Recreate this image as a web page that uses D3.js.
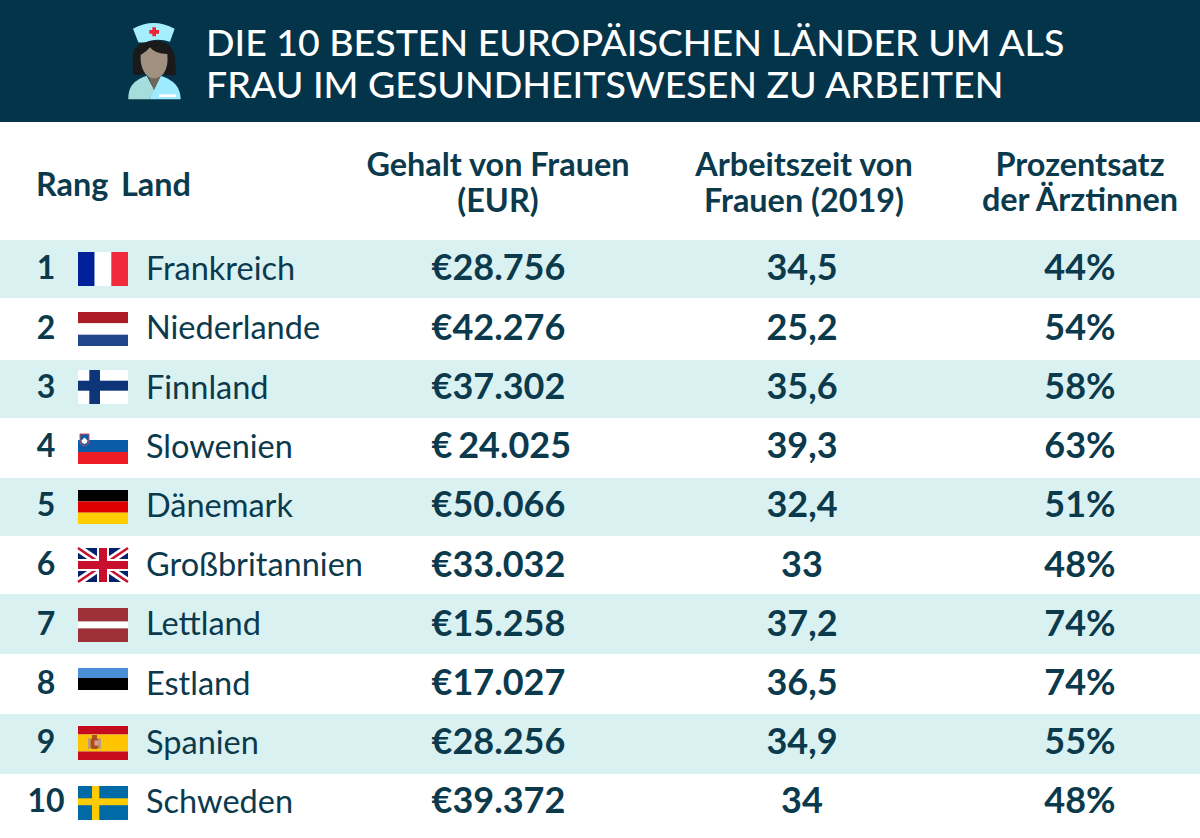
<!DOCTYPE html>
<html><head><meta charset="utf-8">
<script src="https://cdn.jsdelivr.net/npm/d3@7/dist/d3.min.js"></script>
<style>html,body{margin:0;padding:0;background:#fff}svg{display:block}text{font-family:Lato,sans-serif}</style>
</head><body><div id="c"></div>
<script>
const titleLines = ["DIE 10 BESTEN EUROPÄISCHEN LÄNDER UM ALS","FRAU IM GESUNDHEITSWESEN ZU ARBEITEN"];
const ranks = [1,2,3,4,5,6,7,8,9,10];
const countries = ["Frankreich","Niederlande","Finnland","Slowenien","Dänemark","Großbritannien","Lettland","Estland","Spanien","Schweden"];
const salaries = ["€28.756","€42.276","€37.302","€ 24.025","€50.066","€33.032","€15.258","€17.027","€28.256","€39.372"];
const hours = ["34,5","25,2","35,6","39,3","32,4","33","37,2","36,5","34,9","34"];
const doctors = ["44%","54%","58%","63%","51%","48%","74%","74%","55%","48%"];
const flagKeys = ["fr","nl","fi","si","de","gb","lv","ee","es","se"];

// layout
const W=1200,H=838;
const ink="#0b3a4d", band="#daf1f2", head="#04344a";
const bandTops=[240,298,360,418,478,536,594,654,714,774,838];
const flagTops=[252,312,370,430,490,548,608,666,726,786];
const y=d3.scaleLinear().domain([1,10]).range([268,801]);
const svg=d3.select("#c").append("svg").attr("width",W).attr("height",H).attr("viewBox",`0 0 ${W} ${H}`);
svg.append("rect").attr("width",W).attr("height",122).attr("fill",head);

// nurse icon (drawn on a 3x grid)
const n=svg.append("g").attr("transform","translate(110,10) scale(0.3333)");
n.append("path").attr("fill","#1a1a1a").attr("d","M69,193 L68,135 Q78,92 132,92 Q186,92 195,140 L198,195 Q180,200 150,190 L110,190 Q90,198 69,193Z");
n.append("path").attr("fill","#a5dcdc").attr("d","M55,268 Q52,215 110,197 L133,240 L152,205 L118,268Z");
n.append("path").attr("fill","#9eeaff").attr("d","M118,268 L152,197 Q212,215 212,268Z");
n.append("path").attr("fill","#6f675a").attr("d","M112,195 L154,195 L132,240Z");
n.append("path").attr("fill","#a09080").attr("d","M92,135 Q110,125 120,112 Q135,132 172,132 Q176,170 160,192 Q145,205 130,205 Q112,203 102,185 Q90,165 92,135Z");
n.append("rect").attr("x",147).attr("y",253).attr("width",51).attr("height",8).attr("fill","#fff");
n.append("path").attr("fill","#a5eefc").attr("d","M69,56 Q130,22 194,56 L180,95 Q150,85 120,92 Q100,100 85,97Z");
n.append("path").attr("fill","#ee2436").attr("d","M127,52 H138 V60 H147 V71 H138 V79 H127 V71 H118 V60 H127Z");

// title
svg.append("g").selectAll("text").data(titleLines).join("text")
 .attr("x",206).attr("y",(d,i)=>56+i*42).attr("fill","#fff").attr("font-size",37.5).attr("font-weight",500).text(d=>d);

// column heads
const headers=[
 {x:36,a:"start",l:["Rang"],y:[196]},
 {x:121,a:"start",l:["Land"],y:[196]},
 {x:498,a:"middle",l:["Gehalt von Frauen","(EUR)"],y:[176,212]},
 {x:804,a:"middle",l:["Arbeitszeit von","Frauen (2019)"],y:[176,212]},
 {x:1080,a:"middle",l:["Prozentsatz","der Ärztinnen"],y:[175.5,211]}];
headers.forEach(h=>h.l.forEach((t,i)=>svg.append("text").attr("x",h.x).attr("y",h.y[i]).attr("text-anchor",h.a)
 .attr("font-size",32.4).attr("font-weight",700).attr("fill",ink).text(t)));

// bands
svg.append("g").selectAll("rect").data(ranks.filter(r=>r%2===1)).join("rect")
 .attr("x",0).attr("width",W).attr("y",r=>bandTops[r-1]).attr("height",r=>bandTops[r]-bandTops[r-1]).attr("fill",band);

// flags
const FW=50,FH=34;
function stripesH(g,cols,w){let yy=0;const t=d3.sum(w);cols.forEach((c,i)=>{const h=FH*w[i]/t;g.append("rect").attr("y",yy).attr("width",FW).attr("height",h).attr("fill",c);yy+=h;});}
function stripesV(g,cols){cols.forEach((c,i)=>g.append("rect").attr("x",i*FW/3).attr("width",FW/3).attr("height",FH).attr("fill",c));}
function nordic(g,bg,fg,vx,vw,hy,hh){g.append("rect").attr("width",FW).attr("height",FH).attr("fill",bg);
 g.append("rect").attr("x",vx).attr("width",vw).attr("height",FH).attr("fill",fg);
 g.append("rect").attr("y",hy).attr("width",FW).attr("height",hh).attr("fill",fg);}
const draw={
 fr:g=>stripesV(g,["#00219a","#ffffff","#f12b3b"]),
 nl:g=>stripesH(g,["#ac1c27","#ffffff","#21468c"],[1,1,1]),
 fi:g=>nordic(g,"#ffffff","#0d3577",11.3,10.7,10.7,10),
 si:g=>{g.append("rect").attr("y",10).attr("width",FW).attr("height",12).attr("fill","#0a5ca8");
  g.append("rect").attr("y",22).attr("width",FW).attr("height",12).attr("fill","#ee1c25");
  g.append("path").attr("d","M2,4 H11 V11 Q11,15 6.5,16 Q2,15 2,11Z").attr("fill","#0a5ca8").attr("stroke","#c9505a").attr("stroke-width",1);
  g.append("path").attr("d","M3.5,10.5 L6.5,7.5 L9.5,10.5 Q9.5,13.5 6.5,14 Q3.5,13.5 3.5,10.5Z").attr("fill","#fff");},
 de:g=>stripesH(g,["#000000","#dd0000","#ffce00"],[1,1,1]),
 gb:g=>{g.append("rect").attr("width",FW).attr("height",FH).attr("fill","#012169");
  g.append("path").attr("d",`M0,0 L${FW},${FH} M${FW},0 L0,${FH}`).attr("stroke","#fff").attr("stroke-width",8);
  g.append("path").attr("d",`M0,0 L${FW},${FH} M${FW},0 L0,${FH}`).attr("stroke","#c8102e").attr("stroke-width",2.6);
  g.append("rect").attr("x",19).attr("width",12).attr("height",FH).attr("fill","#fff");
  g.append("rect").attr("y",11).attr("width",FW).attr("height",12).attr("fill","#fff");
  g.append("rect").attr("x",21).attr("width",8).attr("height",FH).attr("fill","#c8102e");
  g.append("rect").attr("y",13).attr("width",FW).attr("height",8).attr("fill","#c8102e");},
 lv:g=>stripesH(g,["#9e3039","#ffffff","#9e3039"],[2,1,2]),
 ee:g=>{g.append("rect").attr("y",2).attr("width",FW).attr("height",10).attr("fill","#4a90d9");
  g.append("rect").attr("y",12).attr("width",FW).attr("height",12).attr("fill","#000");},
 es:g=>{stripesH(g,["#c60b1e","#ffc400","#c60b1e"],[1,2,1]);
  g.append("rect").attr("x",10).attr("y",12).attr("width",2.5).attr("height",11).attr("fill","#b0a08a");
  g.append("rect").attr("x",20.5).attr("y",12).attr("width",2.5).attr("height",11).attr("fill","#b0a08a");
  g.append("rect").attr("x",12.5).attr("y",12).attr("width",8).attr("height",11).attr("rx",2.5).attr("fill","#ad4a20");
  g.append("rect").attr("x",14).attr("y",9).attr("width",5).attr("height",3).attr("fill","#a5521f");
  g.append("rect").attr("x",16.5).attr("y",14.5).attr("width",4).attr("height",5).attr("fill","#d8a0a8");},
 se:g=>nordic(g,"#006aa7","#fecc00",14,7.3,12.3,6.9)
};
const flags=svg.append("g").selectAll("g").data(flagKeys).join("g")
 .attr("transform",(d,i)=>`translate(78,${flagTops[i]})`);
flags.each(function(d){draw[d](d3.select(this));});

// cells
function col(vals,x,anchor,size,weight,dy=0,ws=0){
 svg.append("g").selectAll("text").data(vals).join("text")
  .attr("x",x).attr("y",(d,i)=>y(i+1)+size*0.355+dy).attr("text-anchor",anchor)
  .attr("word-spacing",ws).attr("font-size",size).attr("font-weight",weight).attr("fill",ink).text(d=>d);
}
col(ranks,46,"middle",32,700);
col(countries,146,"start",32.5,400,0.6);
col(salaries,431.5,"start",36,700,-0.3,-3);
col(hours,802,"middle",36,700,-0.3);
col(doctors,1080,"middle",36,700,-0.3);
</script></body></html>
